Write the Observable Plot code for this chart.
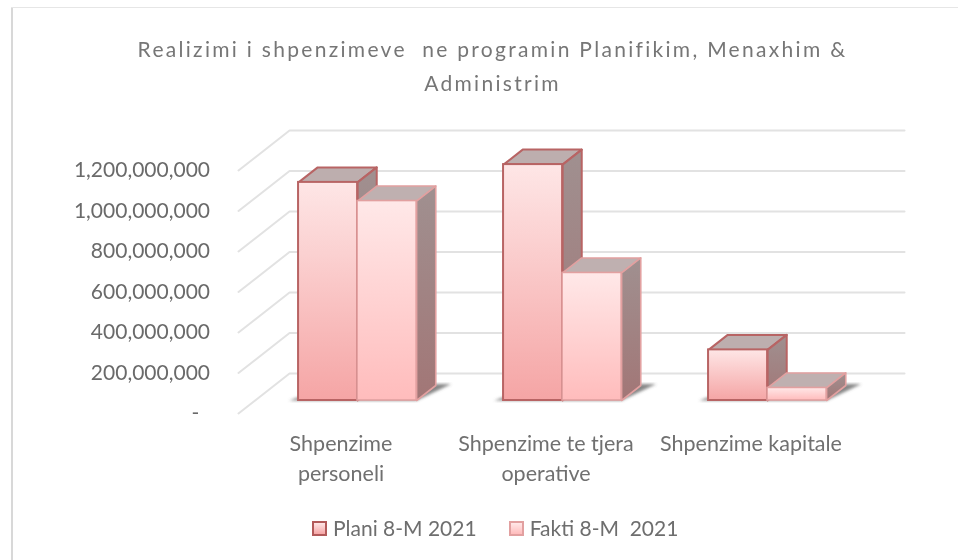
<!DOCTYPE html>
<html><head><meta charset="utf-8">
<script src="https://cdn.jsdelivr.net/npm/d3@7"></script>
<script src="https://cdn.jsdelivr.net/npm/@observablehq/plot@0.6"></script>
<style>
html,body{margin:0;padding:0;background:#fff;}
#frame{position:relative;width:958px;height:560px;overflow:hidden;font-family:Lato,sans-serif;filter:blur(0.5px);}
#borderL{position:absolute;left:11px;top:7px;width:2px;height:560px;background:#d8d8d8;}
#borderT{position:absolute;left:11px;top:7px;width:960px;height:1px;background:#e6e6e6;}
#title{position:absolute;left:0;width:985px;top:32px;text-align:center;font-size:21px;line-height:34px;color:#767676;letter-spacing:2.3px;}
#chart{position:absolute;left:0;top:115px;}
#chart g[aria-label="categories"] text{letter-spacing:1.1px;}
#legend{position:absolute;top:516px;left:312px;font-size:21px;line-height:24px;color:#6e6e6e;white-space:pre;display:flex;}
#legend span.k{display:inline-block;width:11px;height:11px;margin-right:6px;margin-top:5px;box-sizing:content-box;}
</style></head><body>
<div id="frame">
<div id="borderL"></div><div id="borderT"></div>
<div id="title">Realizimi i shpenzimeve&nbsp; ne programin Planifikim, Menaxhim &amp;<br>Administrim</div>
<div id="chart"></div>
<div id="legend"></div>
</div>
<script>
const categories = ["Shpenzime\npersoneli", "Shpenzime te tjera\noperative", "Shpenzime kapitale"];
const planValues = [1077000000, 1165000000, 250000000];
const faktValues = [985000000, 630000000, 62000000];
const seriesNames = ["Plani 8-M 2021", "Fakti 8-M  2021"];
const gridTicks = [0, 200000000, 400000000, 600000000, 800000000, 1000000000, 1200000000];

// depth of the floor in data units (one category = 1 on x)
const DEPTH_X = 0.249, DEPTH_Y = 197500000;
const BAR_W = 0.288, D0 = 0.325, D1 = 0.70;
const at = (x, v, d) => ({x: x + d * DEPTH_X, y: v + d * DEPTH_Y});

const styles = [
  {stroke: "#b86464", strokeWidth: 2, front: "url(#fp)", side: "url(#sp)", top: "#bdaeae"},
  {stroke: "#e2a0a0", strokeWidth: 1.6, front: "url(#ff)", side: "url(#sf)", top: "#bfb0b0"}
];

const gridRows = gridTicks.flatMap(v => [
  {k: v, ...at(0, v, 0)}, {k: v, ...at(0, v, 1)}, {k: v, ...at(3, v, 1)}
]);

function barMarks(values, s, offset) {
  const marks = [];
  const faces = (kind) => values.flatMap((v, i) => {
    const l = i + 0.5 + offset * BAR_W, r = l + BAR_W;
    const pts = kind === "top"
      ? [at(l, v, D0), at(r, v, D0), at(r, v, D1), at(l, v, D1), at(l, v, D0)]
      : [at(r, 0, D0), at(r, v, D0), at(r, v, D1), at(r, 0, D1), at(r, 0, D0)];
    return pts.map(p => ({...p, k: i}));
  });
  for (const kind of ["top", "side"]) {
    marks.push(Plot.line(faces(kind), {x: "x", y: "y", z: "k", fill: s[kind], stroke: s.stroke, strokeWidth: s.strokeWidth, curve: "linear", strokeLinejoin: "round"}));
  }
  const fronts = values.map((v, i) => {
    const l = i + 0.5 + offset * BAR_W;
    const a = at(l, 0, D0), b = at(l + BAR_W, v, D0);
    return {x1: a.x, x2: b.x, y1: a.y, y2: b.y};
  });
  marks.push(Plot.rect(fronts, {x1: "x1", x2: "x2", y1: "y1", y2: "y2", fill: s.front, stroke: s.stroke, strokeWidth: s.strokeWidth}));
  return marks;
}

const shadowRows = planValues.flatMap((_, i) => {
  const l = i + 0.5 - BAR_W, r = i + 0.5 + BAR_W;
  return [
    at(l - 0.045, 0, D0), at(l, 0, D0 + 0.15), at(r, 0, D1 + 0.04), at(r + 0.065, 0, D1 + 0.04), at(r, 0, D0)
  ].map(p => ({...p, k: i}));
});

const defs = () => {
  const svg = d3.create("svg:defs");
  const grad = (id, a, b) => {
    const g = svg.append("linearGradient").attr("id", id).attr("x1", 0).attr("y1", 0).attr("x2", 0).attr("y2", 1);
    g.append("stop").attr("offset", 0).attr("stop-color", a);
    g.append("stop").attr("offset", 1).attr("stop-color", b);
  };
  grad("fp", "#fee6e6", "#f5a5a5");
  grad("ff", "#ffe8e8", "#ffbcbc");
  grad("sp", "#a09090", "#a27676");
  grad("sf", "#a09090", "#a27676");
  svg.append("filter").attr("id", "soft").append("feGaussianBlur").attr("stdDeviation", 1.8);
  return svg.node();
};

const blurred = (index, scales, values, dims, ctx, next) => {
  const g = next(index, scales, values, dims, ctx);
  g.setAttribute("filter", "url(#soft)");
  return g;
};

const plot = Plot.plot({
  width: 958, height: 380,
  marginTop: 0, marginBottom: 0, marginLeft: 238, marginRight: 105,
  x: {domain: [0, 3], range: [238, 853], axis: null},
  y: {domain: [0, 1200000000], range: [298, 55], axis: null},
  style: {background: "transparent", overflow: "visible", fontFamily: "Lato, sans-serif"},
  marks: [
    defs,
    Plot.line(gridRows, {x: "x", y: "y", z: "k", stroke: "#e2e2e2", strokeWidth: 2, curve: "linear"}),
    Plot.axisY(gridTicks, {anchor: "left", tickSize: 0, tickPadding: 0, dx: -28.5, dy: 0, fontSize: 21, fill: "#6a6a6a",
      label: null, tickFormat: v => v === 0 ? "-\u00a0\u00a0" : d3.format(",")(v)}),
    Plot.line(shadowRows, {x: "x", y: "y", z: "k", fill: "#5e5e5e", fillOpacity: 0.75, stroke: "none", render: blurred, curve: "linear"}),
    ...barMarks(planValues, styles[0], -1),
    ...barMarks(faktValues, styles[1], 0),
    Plot.text(categories, {ariaLabel: "categories", x: (d, i) => i + 0.5, y: 0, dy: 16, fontSize: 21.5, lineHeight: 1.4, fill: "#707070", lineAnchor: "top", textAnchor: "middle"})
  ]
});
document.getElementById("chart").append(plot);

const lg = d3.select("#legend");
seriesNames.forEach((n, i) => {
  const el = lg.append("span").style("margin-right", i === 0 ? "32px" : "0");
  el.append("span").attr("class", "k")
    .style("border", `2px solid ${i === 0 ? "#b25a5a" : "#e2a0a0"}`)
    .style("background", `linear-gradient(${i === 0 ? "#fee6e6,#f5a5a5" : "#ffe8e8,#ffbcbc"})`);
  el.append("span").text(n);
});
</script>
</body></html>
